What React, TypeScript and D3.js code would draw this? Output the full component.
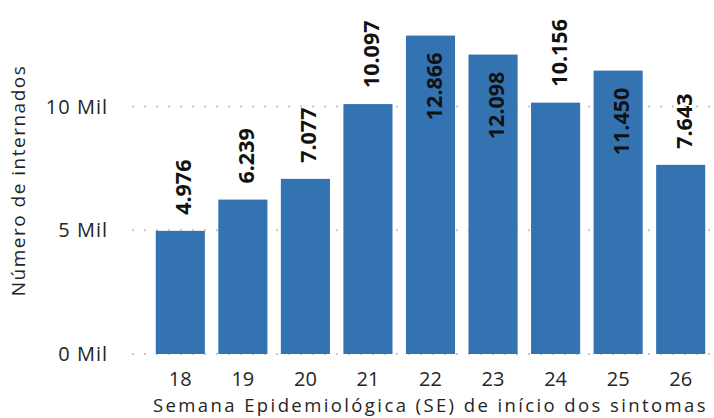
import React from "react";
import * as d3 from "d3";

const weeks = ["18", "19", "20", "21", "22", "23", "24", "25", "26"];
const hospitalized = [4976, 6239, 7077, 10097, 12866, 12098, 10156, 11450, 7643];
const yTicks = [0, 5000, 10000];

const W = 714;
const H = 418;
const barColor = "#3373B2";
const font = "'Open Sans', 'Segoe UI', sans-serif";

const ptBR = d3.formatLocale({ decimal: ",", thousands: ".", grouping: [3], currency: ["R$", ""] });
const fmt = ptBR.format(",d");

export default function App() {
  const x = d3.scaleBand().domain(weeks).range([149, 712]).paddingInner(0.215).paddingOuter(0.108);
  const y = d3.scaleLinear().domain([0, 14000]).range([354, 354 - 0.02475 * 14000]);

  const labelLen = (v: number) => fmt(v).length * 11.2 - 6; // rough bold text length
  return (
    <svg width={W} height={H} style={{ position: "absolute", left: 0, top: 0, background: "#fff" }}>
      {/* dotted gridlines */}
      {yTicks.map((t) => (
        <g key={t}>
          <line x1={132} x2={W} y1={y(t)} y2={y(t)} stroke="#c8c8c8" strokeWidth={2} strokeDasharray="2,10" />
          <text x={108} y={y(t)} dy="0.35em" textAnchor="end" fontFamily={font} fontSize={20} letterSpacing={1} fill="#252525">
            {`${t / 1000} Mil`}
          </text>
        </g>
      ))}

      {/* bars */}
      {hospitalized.map((v, i) => (
        <rect key={weeks[i]} x={x(weeks[i])} y={y(v)} width={x.bandwidth()} height={y(0) - y(v)} fill={barColor} />
      ))}

      {/* value labels, outside when they fit, otherwise inside the bar top */}
      {hospitalized.map((v, i) => {
        const cx = (x(weeks[i]) as number) + x.bandwidth() / 2 + 11;
        const top = y(v);
        const outside = top - 16 - labelLen(v) >= 10;
        const ty = outside ? top - 16 : top + 17;
        return (
          <text
            key={"l" + weeks[i]}
            transform={`translate(${cx},${ty}) rotate(-90)`}
            textAnchor={outside ? "start" : "end"}
            fontFamily={font}
            fontSize={21.5}
            fontWeight="bold"
            fill="#111"
          >
            {fmt(v)}
          </text>
        );
      })}

      {/* x tick labels */}
      {weeks.map((w) => (
        <text key={"t" + w} x={(x(w) as number) + x.bandwidth() / 2} y={386} textAnchor="middle" fontFamily={font} fontSize={20} fill="#252525">
          {w}
        </text>
      ))}

      <text x={153} y={412} fontFamily={font} fontSize={18.5} letterSpacing={2.4} fill="#252525">
        Semana Epidemiológica (SE) de início dos sintomas
      </text>
      <text transform="translate(25,180.5) rotate(-90)" textAnchor="middle" fontFamily={font} fontSize={19} letterSpacing={1.5} fill="#252525">
        Número de internados
      </text>
    </svg>
  );
}
